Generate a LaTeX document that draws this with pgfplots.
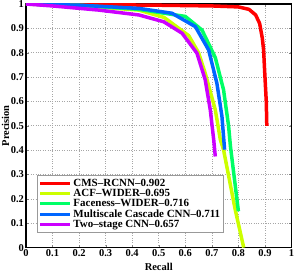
\documentclass[border=0pt]{standalone}
\usepackage{pgfplots}
\pgfplotsset{compat=1.18}
\usepackage{fontspec}
\setmainfont{Liberation Serif}
\definecolor{c1}{rgb}{1,0,0}
\definecolor{c2}{rgb}{0.8,1,0}
\definecolor{c3}{rgb}{0,1,0.4}
\definecolor{c4}{rgb}{0,0.4,1}
\definecolor{c5}{rgb}{0.8,0,1}
\begin{document}
\begin{tikzpicture}
\begin{axis}[
  scale only axis, width=266pt, height=244pt,
  xmin=0, xmax=1, ymin=0, ymax=1,
  xtick={0,0.1,...,1.01}, ytick={0,0.1,...,1.01},
  /pgf/number format/assume math mode=true,
  ticklabel style={font=\fontsize{10.5}{10.5}\selectfont\bfseries},
  xticklabel style={yshift=1.5pt},
  yticklabel style={xshift=1.5pt},
  tick align=inside, major tick length=3pt,
  axis line style={line width=1.2pt},
  grid=major, grid style={dotted, gray!70, line width=0.6pt},
  xlabel={\bfseries Recall}, ylabel={\bfseries Precision},
  label style={font=\fontsize{10.5}{10.5}\selectfont},
  xlabel style={at={(rel axis cs:0.5,0)}, anchor=center, yshift=-19pt},
  ylabel style={at={(rel axis cs:0,0.5)}, anchor=center, rotate=0, yshift=20.5pt},
  legend style={at={(rel axis cs:0.042,0.062)}, anchor=south west,
    font=\fontsize{11}{11}\selectfont\bfseries, draw=gray!80, line width=0.8pt,
    inner sep=1pt, row sep=-2.5pt, cells={anchor=west}},
  legend image code/.code={\draw[#1, line width=3pt] (0pt,0pt) -- (30pt,0pt);},
  every axis plot/.append style={line width=3.5pt, line join=round},
]
\addplot[c1] coordinates {(0,1) (0.1,0.999) (0.3,0.997) (0.5,0.995) (0.7,0.992) (0.8,0.988) (0.84,0.978) (0.865,0.955) (0.88,0.92) (0.89,0.86) (0.895,0.81) (0.898,0.743) (0.902,0.66) (0.905,0.6) (0.907,0.5)};
\addplot[c2] coordinates {(0,1) (0.1,0.995) (0.3,0.985) (0.425,0.975) (0.52,0.945) (0.613,0.87) (0.65,0.8) (0.675,0.716) (0.713,0.566) (0.732,0.443) (0.744,0.402) (0.788,0.156) (0.82,0.0)};
\addplot[c3] coordinates {(0,1) (0.2,0.995) (0.425,0.978) (0.6,0.949) (0.663,0.893) (0.713,0.78) (0.744,0.648) (0.763,0.5) (0.77,0.416) (0.8,0.149)};
\addplot[c4] coordinates {(0,1) (0.2,0.995) (0.425,0.982) (0.55,0.962) (0.638,0.907) (0.688,0.811) (0.719,0.675) (0.738,0.539) (0.748,0.402)};
\addplot[c5] coordinates {(0,1) (0.1,0.992) (0.274,0.975) (0.425,0.955) (0.519,0.927) (0.588,0.88) (0.644,0.798) (0.675,0.689) (0.694,0.566) (0.707,0.443) (0.713,0.374)};
\legend{CMS--RCNN--0.902, ACF--WIDER--0.695, Faceness--WIDER--0.716, Multiscale Cascade CNN--0.711, Two--stage CNN--0.657}
\end{axis}
\pgfresetboundingbox
\path ([shift={(-26pt,-25pt)}]current axis.south west) rectangle ([shift={(2.5pt,4pt)}]current axis.north east);
\end{tikzpicture}
\end{document}
